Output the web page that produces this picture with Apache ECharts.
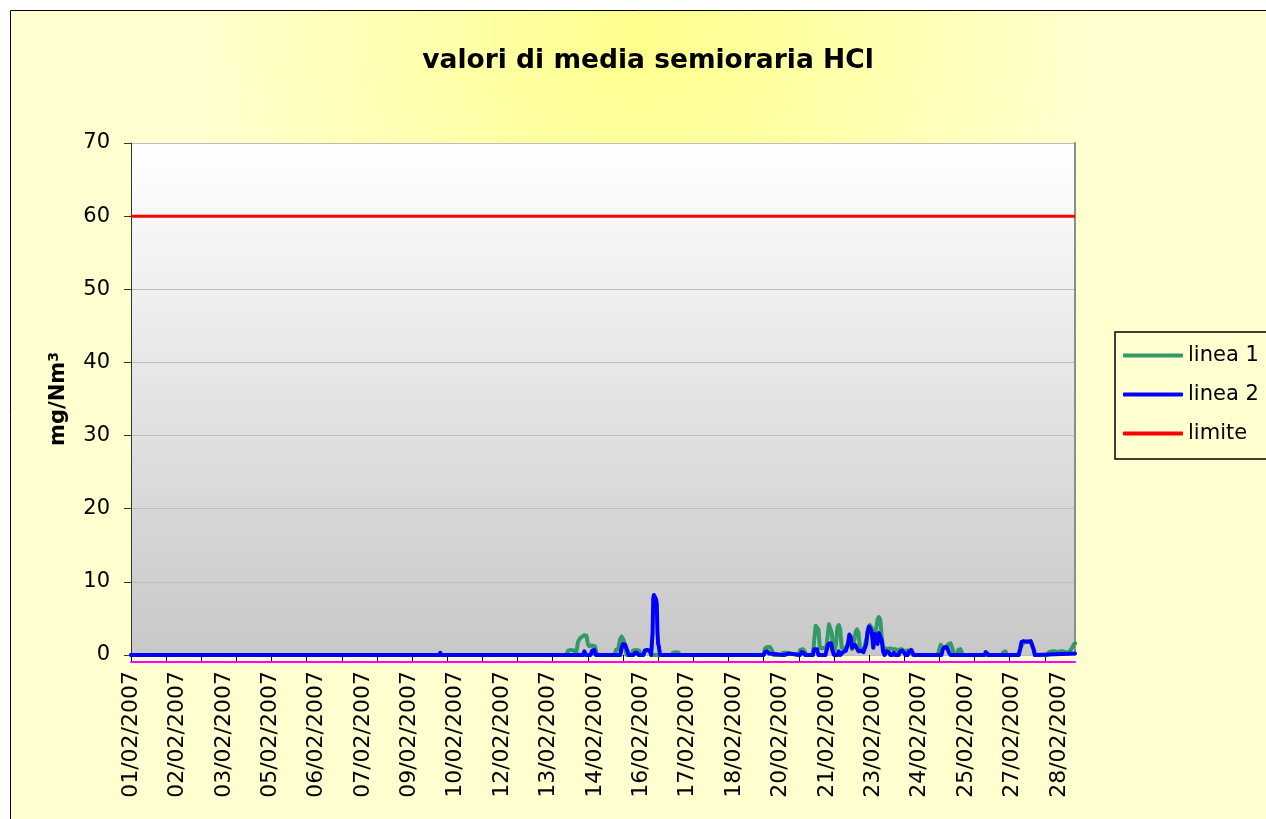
<!DOCTYPE html>
<html>
<head>
<meta charset="utf-8">
<script src="https://cdn.jsdelivr.net/npm/echarts@6/dist/echarts.min.js"></script>
<style>
html,body{margin:0;padding:0;background:#ffffff;}
#chart{width:1266px;height:819px;}
</style>
</head>
<body>
<div id="chart"></div>
<script>
// ---- data ----
const days = ['01/02/2007','02/02/2007','03/02/2007','04/02/2007','05/02/2007','06/02/2007','07/02/2007',
  '08/02/2007','09/02/2007','10/02/2007','11/02/2007','12/02/2007','13/02/2007','14/02/2007',
  '15/02/2007','16/02/2007','17/02/2007','18/02/2007','19/02/2007','20/02/2007','21/02/2007',
  '22/02/2007','23/02/2007','24/02/2007','25/02/2007','26/02/2007','27/02/2007','28/02/2007'];
const slotsPerDay = 48; // half-hour readings
const seriesNames = ['linea 1','linea 2','limite'];
const yMin = 0, yMax = 70, yStep = 10;

// [half-hour index, mg/Nm3]
const linea1 = [
[0,0],[619,0],[622,0.6],[626,0.7],[631,0.6],[633,0],
[634,0],[636,1.8],[639,2.3],[642,2.5],[645,2.7],[648,2.6],[650,1.5],[652,1.2],[655,1.3],[657,1.5],[660,1.2],[662,0.4],[664,0],
[688,0],[690,0.7],[693,0.8],[696,2.2],[698,2.5],[701,2.0],[703,1.2],[705,0],
[712,0],[714,0.6],[718,0.7],[723,0.6],[725,0],
[729,0],[731,0.6],[735,0.6],[739,0.5],[741,0],
[769,0],[771,0.3],[775,0.4],[779,0.3],[781,0],
[900,0],[902,0.9],[905,1.1],[909,1.1],[912,0.6],[914,0],
[926,0],[928,0.3],[933,0.3],[937,0.2],[939,0],
[950,0],[952,0.7],[956,0.8],[959,0.4],[961,0],
[970,0],[972,2.0],[974,4.0],[976,4.1],[978,3.5],[980,1.0],[983,0.9],[986,1.0],[989,0.8],[991,2.5],[993,4.2],[995,4.3],[997,3.0],[999,1.0],[1001,0.6],[1003,1.5],[1005,3.8],[1007,4.1],[1009,3.5],[1011,1.0],[1014,0.9],[1017,1.0],[1020,1.5],[1022,2.2],[1024,2.0],[1026,0.8],[1029,2.0],[1031,3.2],[1033,3.5],[1035,3.0],[1037,1.0],[1040,0.8],[1043,0.9],[1045,1.0],[1047,2.5],[1049,3.8],[1051,4.1],[1053,4.0],[1055,3.5],[1057,2.0],[1060,3.5],[1062,4.8],[1064,5.2],[1066,4.8],[1068,2.5],[1070,1.0],[1073,0.9],[1076,0.8],[1080,0.9],[1084,0.8],[1088,0.8],[1090,0.3],[1092,0.5],[1094,0.8],[1097,0.8],[1100,0.5],[1102,0.4],[1104,0.6],[1107,0.6],[1110,0.4],[1112,0],
[1148,0],[1150,0.8],[1152,1.4],[1154,1.3],[1156,0.9],[1160,1.0],[1163,1.5],[1166,1.6],[1168,1.4],[1170,0.5],[1172,0],
[1175,0],[1177,0.7],[1180,0.8],[1182,0.3],[1184,0],
[1239,0],[1241,0.4],[1244,0.5],[1246,0],
[1262,0],[1264,0.6],[1268,1.5],[1272,1.8],[1276,1.9],[1280,1.8],[1284,0.8],[1286,0],
[1304,0],[1306,0.4],[1310,0.5],[1314,0.5],[1318,0.4],[1322,0.5],[1326,0.5],[1330,0.4],[1333,0.2],[1336,0.6],[1339,1.0],[1341,1.4],[1343,1.6]
];
const linea2 = [
[0,0],[438,0],[440,0.3],[442,0],
[643,0],[645,0.5],[647,0],
[654,0],[656,0.6],[659,0.7],[661,0],
[696,0],[698,1.0],[700,1.5],[703,1.4],[706,0.6],[708,0],
[715,0],[717,0.3],[720,0.3],[722,0],
[729,0],[731,0.6],[734,0.7],[738,0.6],[740,0],
[741,0],[742,3.0],[743,7.8],[744,8.2],[745,8.1],[746,8.0],[747,7.6],[748,7.0],[749,3.0],[750,1.5],[751,1.2],[752,0.4],[753,0],
[900,0],[902,0.4],[905,0.5],[908,0.2],[910,0],
[929,0],[931,0.2],[936,0.2],[938,0],
[952,0],[954,0.4],[957,0.3],[959,0],
[970,0],[972,0.8],[974,1.0],[976,0.8],[978,0],
[988,0],[990,0.8],[992,1.5],[994,1.7],[996,1.6],[998,0.6],[1000,0],
[1005,0],[1007,0.5],[1009,0],
[1011,0],[1013,0.4],[1017,0.6],[1020,1.5],[1022,2.8],[1024,2.5],[1026,1.0],[1028,0.8],[1030,1.4],[1032,1.3],[1035,0.5],[1037,0.3],[1039,0.6],[1042,0.4],[1044,0.5],[1046,1.5],[1048,3.2],[1050,3.9],[1052,3.6],[1054,3.0],[1056,1.0],[1058,2.9],[1060,2.6],[1062,1.5],[1064,3.0],[1066,3.1],[1068,2.0],[1070,0.5],[1072,0],
[1073,0],[1075,0.5],[1078,0.4],[1080,0],
[1083,0],[1085,0.3],[1087,0],
[1092,0],[1094,0.5],[1097,0.6],[1100,0.3],[1102,0],
[1105,0],[1107,0.5],[1110,0.7],[1112,0.3],[1114,0],
[1153,0],[1155,0.8],[1158,1.1],[1161,1.0],[1164,0.3],[1166,0],
[1214,0],[1216,0.4],[1218,0.5],[1220,0],
[1263,0],[1265,0.8],[1267,1.8],[1270,1.9],[1275,1.8],[1280,1.9],[1282,1.9],[1284,0.8],[1286,0],
[1343,0.2]
];
const limite = [[0,60],[1343,60]];

// ---- categories (each day label repeated for its half-hour slots) ----
const categories = [];
days.forEach(d => { for (let k = 0; k < slotsPerDay; k++) categories.push(d); });

const FONT = 'DejaVu Sans';
const chart = echarts.init(document.getElementById('chart'), null, {renderer:'canvas'});

const option = {
  animation: false,
  backgroundColor: 'transparent',
  graphic: [{
    type: 'rect', z: -100, zlevel: 0, silent: true,
    shape: {x: 10.5, y: 10.5, width: 1266, height: 819},
    style: {
      fill: new echarts.graphic.RadialGradient(0.5, 0.03, 0.55, [
        {offset: 0, color: '#FFFF8C'},
        {offset: 0.6, color: '#FFFFB4'},
        {offset: 1, color: '#FFFFD0'}
      ]),
      stroke: '#000000', lineWidth: 1
    }
  }],
  title: {
    text: 'valori di media semioraria HCl',
    left: 643, top: 43, textAlign: 'center',
    textStyle: {fontFamily: FONT, fontWeight: 'bold', fontSize: 26.5, color: '#000'}
  },
  legend: {
    orient: 'vertical',
    left: 1115, top: 332,
    padding: [13, 40, 15, 8],
    itemGap: 18,
    itemWidth: 60, itemHeight: 4,
    borderColor: '#000', borderWidth: 1.5,
    icon: 'roundRect',
    textStyle: {fontFamily: FONT, fontSize: 21, color: '#000'},
    data: seriesNames
  },
  grid: {
    left: 131, right: 191, top: 143, bottom: 164,
    show: true, borderWidth: 0,
    backgroundColor: new echarts.graphic.LinearGradient(0, 0, 0, 1, [
      {offset: 0, color: '#FFFFFF'},
      {offset: 1, color: '#C8C8C8'}
    ])
  },
  xAxis: [{
    type: 'category', data: categories, boundaryGap: false,
    axisLine: {show: false, onZero: false},
    axisTick: {show: true, interval: 49, length: 6, lineStyle: {color: '#000', width: 1}},
    axisLabel: {interval: 65, rotate: 90, margin: 16, fontFamily: FONT, fontSize: 22, color: '#000'},
    splitLine: {show: false}
  }, {
    type: 'category', data: categories, boundaryGap: false, position: 'bottom', offset: 7,
    axisLine: {show: true, onZero: false, lineStyle: {color: '#FF00FF', width: 2}},
    axisTick: {show: false}, axisLabel: {show: false}, splitLine: {show: false}
  }],
  yAxis: [{
    type: 'value', min: yMin, max: yMax, interval: yStep,
    name: 'mg/Nm{s|3}', nameLocation: 'middle', nameGap: 60, nameRotate: 90,
    nameTextStyle: {fontFamily: FONT, fontWeight: 'bold', fontSize: 21, color: '#000',
      rich: {s: {fontFamily: FONT, fontWeight: 'bold', fontSize: 14, color: '#000', verticalAlign: 'top', lineHeight: 24}}},
    axisLine: {show: true, lineStyle: {color: '#333', width: 1}},
    axisTick: {show: true, length: 7, lineStyle: {color: '#333'}},
    axisLabel: {margin: 21, fontFamily: FONT, fontSize: 21, color: '#000'},
    splitLine: {show: true, lineStyle: {color: '#BDBDBD', width: 1}}
  }, {
    type: 'value', min: yMin, max: yMax, interval: yStep, position: 'right',
    axisLine: {show: true, lineStyle: {color: '#8C8C8C', width: 2}},
    axisTick: {show: false}, axisLabel: {show: false}, splitLine: {show: false}
  }],
  series: [{
    name: seriesNames[0], type: 'line', data: linea1, showSymbol: false, symbol: 'none',
    color: '#339966',
    lineStyle: {color: '#339966', width: 4, cap: 'round', join: 'round'}, z: 3
  }, {
    name: seriesNames[1], type: 'line', data: linea2, showSymbol: false, symbol: 'none',
    color: '#0000FF',
    lineStyle: {color: '#0000FF', width: 4, cap: 'round', join: 'round'}, z: 4
  }, {
    name: seriesNames[2], type: 'line', data: limite, showSymbol: false, symbol: 'none',
    color: '#FF0000',
    lineStyle: {color: '#FF0000', width: 3}, z: 5
  }]
};
chart.setOption(option);
</script>
</body>
</html>
